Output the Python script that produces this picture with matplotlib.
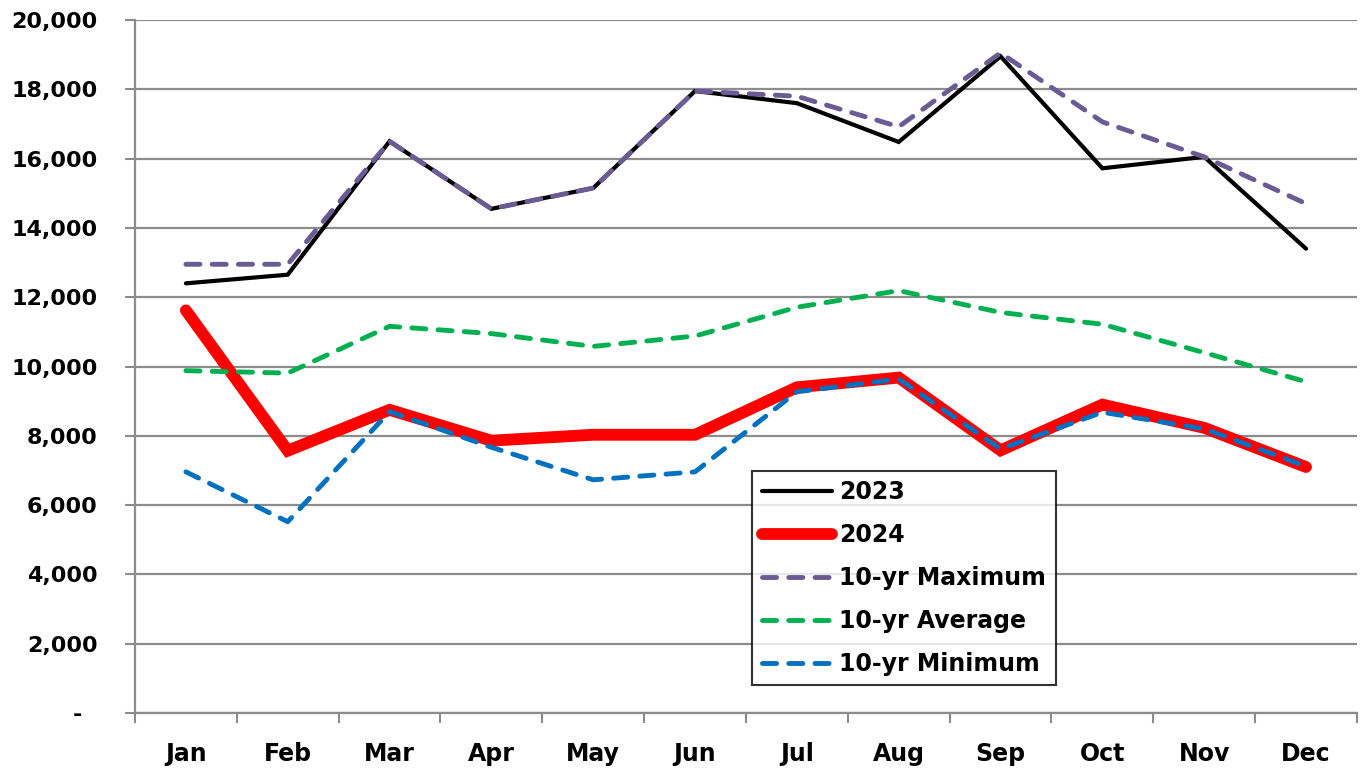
import matplotlib
matplotlib.use('Agg')

import numpy as np
import matplotlib.pyplot as plt
from matplotlib.ticker import FuncFormatter

months = ['Jan', 'Feb', 'Mar', 'Apr', 'May', 'Jun',
          'Jul', 'Aug', 'Sep', 'Oct', 'Nov', 'Dec']

y2023 = [12400, 12650, 16500, 14550, 15150, 17950,
         17600, 16480, 18950, 15720, 16050, 13400]
y2024 = [11620, 7570, 8750, 7860, 8030, 8030,
         9400, 9680, 7580, 8900, 8230, 7100]
max10 = [12950, 12950, 16500, 14550, 15150, 17950,
         17800, 16920, 19050, 17060, 16050, 14700]
avg10 = [9880, 9810, 11160, 10950, 10580, 10880,
         11710, 12190, 11560, 11220, 10400, 9560]
min10 = [6960, 5520, 8700, 7670, 6730, 6960,
         9270, 9640, 7620, 8680, 8200, 7120]


def fmt_thousands(v, pos):
    # accounting style: zero shows as a dash, set in a little from the right
    if v == 0:
        return '-  '
    return '{:,.0f}'.format(v)


def main():
    fig = plt.figure(figsize=(13.62, 7.72), dpi=100)
    ax = fig.add_axes([0.0991, 0.0764, 0.8972, 0.8977])

    x = np.arange(len(months))
    dash = [2.9, 2.5]

    ax.plot(x, y2023, color='black', lw=3.0, solid_capstyle='round',
            solid_joinstyle='miter', label='2023', zorder=3)
    ax.plot(x, y2024, color='#FF0000', lw=8.5, solid_capstyle='round',
            solid_joinstyle='miter', label='2024', zorder=3)
    ax.plot(x, max10, color='#6B5B95', lw=3.5, dashes=dash,
            dash_capstyle='round', label='10-yr Maximum', zorder=4)
    ax.plot(x, avg10, color='#00B050', lw=3.5, dashes=dash,
            dash_capstyle='round', label='10-yr Average', zorder=4)
    ax.plot(x, min10, color='#0070C0', lw=3.5, dashes=dash,
            dash_capstyle='round', label='10-yr Minimum', zorder=4)

    ax.set_xlim(-0.5, 11.5)
    ax.set_ylim(0, 20000)
    ax.set_yticks(np.arange(0, 20001, 2000))
    ax.yaxis.set_major_formatter(FuncFormatter(fmt_thousands))
    ax.grid(axis='y', color='#8C8C8C', lw=1.6, zorder=0)

    # category boundaries get the tick marks, centers get the labels
    ax.set_xticks(np.arange(-0.5, 12, 1))
    ax.set_xticklabels([])
    ax.set_xticks(x, minor=True)
    ax.set_xticklabels(months, minor=True)
    ax.tick_params(axis='x', which='major', length=7, width=1.5,
                   color='#8C8C8C', direction='out')
    ax.tick_params(axis='x', which='minor', length=0, pad=21)
    ax.tick_params(axis='y', length=7, width=1.5, color='#8C8C8C',
                   direction='out', pad=20)

    for lab in ax.get_yticklabels():
        lab.set_fontfamily('DejaVu Sans')
        lab.set_fontweight('bold')
        lab.set_fontsize(16)
    for lab in ax.get_xticklabels(minor=True):
        lab.set_fontfamily('DejaVu Sans')
        lab.set_fontweight('bold')
        lab.set_fontsize(17)

    for s in ['top', 'right']:
        ax.spines[s].set_visible(False)
    for s in ['left', 'bottom']:
        ax.spines[s].set_color('#8C8C8C')
        ax.spines[s].set_linewidth(1.6)

    leg = ax.legend(loc='lower left', bbox_to_anchor=(0.505, 0.040),
                    frameon=True, fancybox=False, edgecolor='black',
                    prop={'family': 'DejaVu Sans', 'weight': 'bold',
                          'size': 17},
                    handlelength=3.0, labelspacing=0.8, borderpad=0.4,
                    handletextpad=0.3, borderaxespad=0)
    leg.get_frame().set_linewidth(1.5)
    leg.set_zorder(10)

    fig.savefig('out.png', dpi=100, facecolor='white')


if __name__ == '__main__':
    main()
